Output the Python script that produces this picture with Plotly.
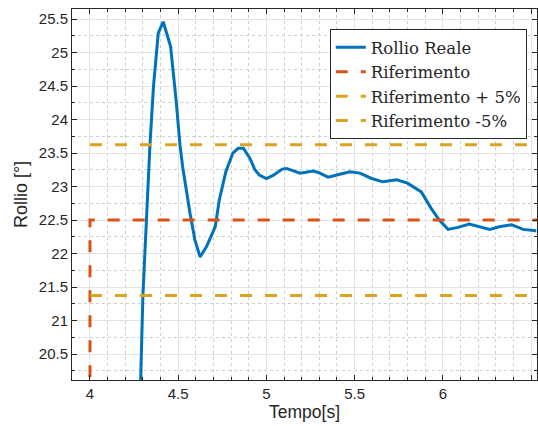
import plotly.graph_objects as go

# ---- data ----
t_real = [4.285, 4.30, 4.32, 4.34, 4.36, 4.387, 4.415, 4.457, 4.488, 4.51, 4.525, 4.545,
          4.567, 4.595, 4.624, 4.66, 4.71, 4.733, 4.77, 4.81, 4.84, 4.87, 4.907, 4.935,
          4.96, 5.0, 5.04, 5.09, 5.115, 5.19, 5.266, 5.294, 5.35, 5.41, 5.474, 5.53,
          5.597, 5.66, 5.739, 5.80, 5.878, 5.935, 5.98, 6.03, 6.086, 6.15, 6.21, 6.266,
          6.32, 6.39, 6.455, 6.53]
v_real = [19.9, 21.375, 22.5, 23.625, 24.5, 25.29, 25.46, 25.09, 24.29, 23.625, 23.30, 22.95,
          22.60, 22.2, 21.95, 22.1, 22.40, 22.80, 23.22, 23.50, 23.57, 23.57, 23.42, 23.25,
          23.17, 23.12, 23.17, 23.26, 23.27, 23.20, 23.23, 23.21, 23.14, 23.18, 23.22, 23.20,
          23.12, 23.07, 23.10, 23.05, 22.92, 22.67, 22.5, 22.36, 22.39, 22.44, 22.40, 22.36,
          22.40, 22.43, 22.36, 22.34]

t_ref = [4.0, 4.0, 6.6]
v_ref = [0.0, 22.5, 22.5]

t_band = [4.0, 6.6]
v_plus = [23.625, 23.625]
v_minus = [21.375, 21.375]

names = ["Rollio Reale", "Riferimento", "Riferimento + 5%", "Riferimento -5%"]

BLUE = "#0072BD"
RED = "#D95319"
YEL = "#D9A521"
DASH = "12px,13px"
SANS = "Liberation Sans, Arial, sans-serif"

fig = go.Figure()
fig.add_trace(go.Scatter(x=t_real, y=v_real, mode="lines", name=names[0],
                         line=dict(color=BLUE, width=3)))
fig.add_trace(go.Scatter(x=t_ref, y=v_ref, mode="lines", name=names[1],
                         line=dict(color=RED, width=3, dash=DASH)))
fig.add_trace(go.Scatter(x=t_band, y=v_plus, mode="lines", name=names[2],
                         line=dict(color=YEL, width=3, dash=DASH)))
fig.add_trace(go.Scatter(x=t_band, y=v_minus, mode="lines", name=names[3],
                         line=dict(color=YEL, width=3, dash=DASH)))

axis_common = dict(
    showline=True, linecolor="#262626", linewidth=1, mirror="ticks",
    ticks="inside", ticklen=5, tickcolor="#262626", tickwidth=1,
    showgrid=True, gridcolor="#E3E3E3", gridwidth=1,
    zeroline=False,
    tickfont=dict(family=SANS, size=15, color="#262626"),
)

fig.update_xaxes(**axis_common, range=[3.898, 6.534], tick0=4, dtick=0.5,
                 minor=dict(dtick=0.1, tick0=4, ticks="inside", ticklen=3, tickcolor="#262626",
                            showgrid=True, gridcolor="#CFCFCF", griddash="dot", gridwidth=1),
                 title=dict(text="Tempo[s]", standoff=2,
                            font=dict(family=SANS, size=17.5, color="#262626")))
fig.update_yaxes(**axis_common, range=[20.112, 25.65], tick0=20.5, dtick=0.5,
                 minor=dict(dtick=0.25, tick0=20.5, ticks="inside", ticklen=3, tickcolor="#262626",
                            showgrid=True, gridcolor="#CFCFCF", griddash="dot", gridwidth=1),
                 title=dict(text="Rollio [°]", standoff=6,
                            font=dict(family=SANS, size=18, color="#262626")))

fig.update_layout(
    width=538, height=426,
    margin=dict(l=72, r=1, t=9, b=46),
    plot_bgcolor="white", paper_bgcolor="white",
    legend=dict(x=0.978, y=0.946, xanchor="right", yanchor="top",
                bgcolor="white", bordercolor="#262626", borderwidth=1,
                font=dict(family="DejaVu Serif, Liberation Serif, serif", size=16.5, color="#262626"),
                tracegroupgap=0, itemwidth=30),
)

fig.write_html("out.html")
